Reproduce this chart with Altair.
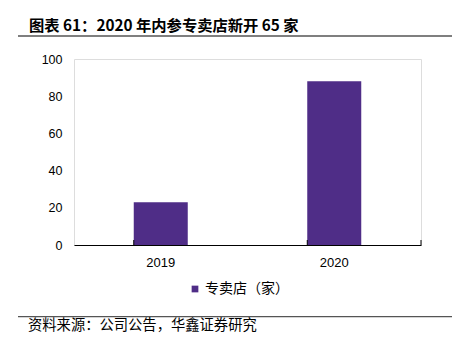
import altair as alt
import pandas as pd

years = ["2019", "2020"]
stores = [23, 88]
series_name = "专卖店（家）"
y_ticks = [0, 20, 40, 60, 80, 100]
title_text = "图表 61：2020 年内参专卖店新开 65 家"
source_text = "资料来源：公司公告，华鑫证券研究"

BAR = "#4F2D87"
W, H = 347, 186

df = pd.DataFrame({"year": years, "value": stores, "series": [series_name] * len(years)})
dummy = pd.DataFrame({"k": [0]})

xscale = alt.Scale(paddingInner=0.689, paddingOuter=0.3445)
yscale = alt.Scale(domain=[0, 100])

bars = alt.Chart(df).mark_bar(size=54).encode(
    x=alt.X("year:N", scale=xscale, sort=years,
            axis=alt.Axis(title=None, labelAngle=0, ticks=False, domainColor="#000000",
                          domainWidth=1.2, labelFont="Liberation Sans", labelFontSize=13,
                          labelColor="#000000", labelPadding=11)),
    y=alt.Y("value:Q", scale=yscale,
            axis=alt.Axis(title=None, values=y_ticks, ticks=False, domain=False, grid=False,
                          labelFont="Liberation Sans", labelFontSize=12.5,
                          labelColor="#000000", labelPadding=12)),
    color=alt.Color("series:N", scale=alt.Scale(range=[BAR]),
                    legend=alt.Legend(title=None, orient="none", legendX=114, legendY=223,
                                      symbolType="square", symbolSize=45, symbolStrokeWidth=0,
                                      labelFont="Noto Sans CJK SC", labelFontSize=14,
                                      labelColor="#000000", labelOffset=3, padding=0)),
)

ticks = alt.Chart(df).mark_rule(color="#000000", strokeWidth=1).encode(
    x=alt.X("year:N", scale=xscale, sort=years, bandPosition=0),
    y=alt.value(H), y2=alt.value(H - 5),
)
end_tick = alt.Chart(dummy).mark_rule(color="#000000", strokeWidth=1).encode(
    x=alt.value(W), y=alt.value(H), y2=alt.value(H - 5),
)

top_line = alt.Chart(dummy).mark_rule(color="#000000", strokeWidth=1.2).encode(
    x=alt.value(-56), x2=alt.value(378), y=alt.value(-23))
bot_line = alt.Chart(dummy).mark_rule(color="#555555", strokeWidth=1.2).encode(
    x=alt.value(-56), x2=alt.value(378), y=alt.value(257.7))

title = alt.Chart(dummy).mark_text(
    text=title_text, align="left", baseline="middle", font="Noto Sans CJK SC",
    fontWeight="bold", fontSize=15.3, color="#000000").encode(
    x=alt.value(-45), y=alt.value(-33.5))
source = alt.Chart(dummy).mark_text(
    text=source_text, align="left", baseline="middle", font="Noto Sans CJK SC",
    fontSize=14.3, color="#000000").encode(
    x=alt.value(-46), y=alt.value(267))

chart = alt.layer(bars, ticks, end_tick, top_line, bot_line, title, source).properties(
    width=W, height=H,
    autosize=alt.AutoSizeParams(type="none"),
    padding={"left": 74, "top": 59, "right": 46, "bottom": 108},
).configure_view(stroke=None).configure(background="#ffffff")

chart.save("out.html", embed_options={"renderer": "svg", "actions": False})
